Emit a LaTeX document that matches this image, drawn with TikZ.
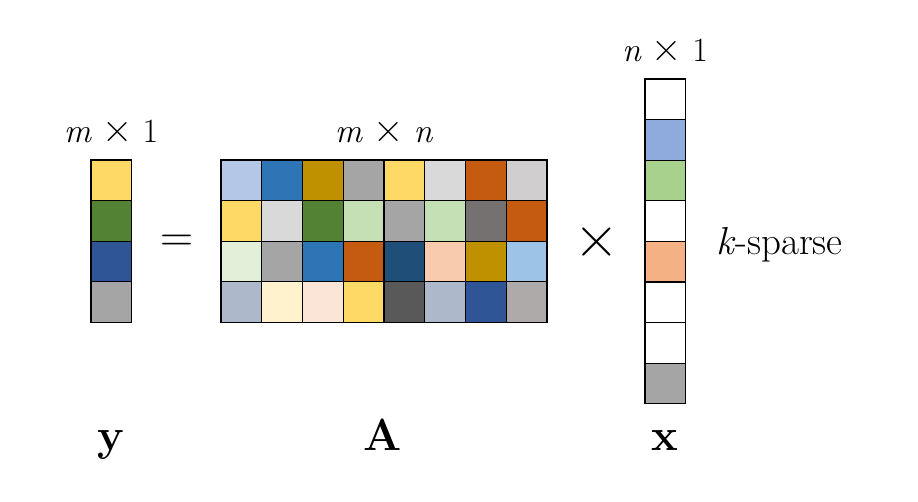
\documentclass[tikz,border=0pt]{standalone}
\usepackage{xcolor}
\newcommand{\bigtimes}{{\fontsize{42}{42}\selectfont ×}}
\begin{document}
\begin{tikzpicture}[x=1pt,y=-1pt,
  cell/.style={draw=black, line width=1.1pt, minimum width=40.75pt, minimum height=40.6pt, inner sep=0pt, outer sep=0pt, anchor=north west},
  dimlabel/.style={anchor=base, inner sep=0pt, font=\fontsize{34}{40}\selectfont},
  oplabel/.style={anchor=center, inner sep=0pt},
  namelabel/.style={anchor=base, inner sep=0pt, font=\fontsize{45}{50}\selectfont\bfseries}]
\useasboundingbox (0,0) rectangle (918,502);
% matrix A
\foreach \row [count=\i from 0] in {
  {B4C7E7,2E75B6,BF9000,A5A5A5,FFD966,D9D9D9,C55A11,D0CECE},
  {FFD966,D9D9D9,548235,C5E0B4,A5A5A5,C5E0B4,767171,C55A11},
  {E2F0D9,A5A5A5,2E75B6,C55A11,1F4E79,F8CBAD,BF9000,9DC3E6},
  {ADB9CA,FFF2CC,FBE5D6,FFD966,595959,ADB9CA,2F5597,AEAAAA}}{
  \foreach \c [count=\j from 0] in \row {
    \definecolor{tmpc}{HTML}{\c}
    \node[cell, fill=tmpc] (A-\i-\j) at ({221+40.75*\j},{160+40.6*\i}) {};
  }
}
% vector y
\foreach \c [count=\i from 0] in {FFD966,548235,2F5597,A5A5A5}{
  \definecolor{tmpc}{HTML}{\c}
  \node[cell, fill=tmpc] (y-\i) at (91,{160+40.6*\i}) {};
}
% vector x
\foreach \c [count=\i from 0] in {FFFFFF,8FAADC,A9D18E,FFFFFF,F4B183,FFFFFF,FFFFFF,A5A5A5}{
  \definecolor{tmpc}{HTML}{\c}
  \node[cell, fill=tmpc] (x-\i) at (645,{79+40.6*\i}) {};
}
% dimension labels
\node[dimlabel] (ydim) at (111,143) {\textit{m}\hspace{0.3em}\bigtimes\hspace{0.3em}1};
\node[dimlabel] (Adim) at (384,143) {\textit{m}\hspace{0.3em}\bigtimes\hspace{0.3em}\textit{n}};
\node[dimlabel] (xdim) at (665,62) {\textit{n}\hspace{0.3em}\bigtimes\hspace{0.3em}1};
% operators
\node[oplabel, font=\fontsize{46}{50}\selectfont] (eq) at (177,243) {=};
\node[oplabel, font=\fontsize{62}{66}\selectfont] (times) at (597,242) {×};
\node[anchor=base west, inner sep=0pt, font=\fontsize{39}{44}\selectfont] (sparse) at (716,255) {\textit{k}-sparse};
% names
\node[namelabel] (yname) at (111,450) {y};
\node[namelabel] (Aname) at (383,450) {A};
\node[namelabel] (xname) at (665,450) {x};
\end{tikzpicture}
\end{document}
